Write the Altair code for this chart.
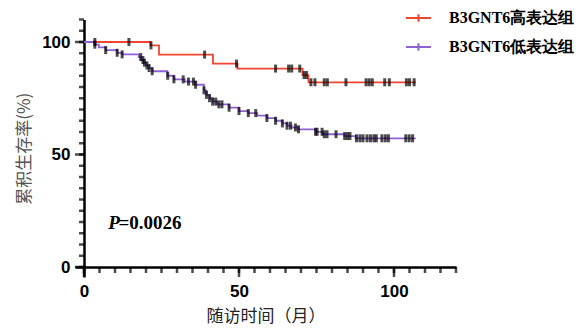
import altair as alt
import pandas as pd

high_label = "B3GNT6高表达组"
low_label = "B3GNT6低表达组"
colors = ["#F2452F", "#8E62D0"]

# Kaplan-Meier steps (month, survival % after drop)
high_times = [0, 21.5, 24.2, 41.6, 49.5, 70.5, 72.4]
high_surv = [100, 98.5, 94.4, 90.4, 88.2, 85.3, 82.1]
high_end = 107
high_censor = [3.5, 14.5, 21.6, 38.9, 49.2, 61.8, 66.0, 67.0, 69.6, 71.0, 71.8,
               73.2, 74.5, 77.5, 78.5, 84.5, 91.0, 92.0, 93.0, 97.0, 98.5,
               104.0, 105.0, 106.5]

low_times = [0, 3.5, 4.8, 7.0, 10.7, 12.3, 17.7, 18.5, 19.3, 20.0, 21.0, 22.0,
             26.9, 29.0, 32.5, 36.0, 38.7, 39.5, 40.5, 41.5, 43.0, 46.8, 50.0,
             53.0, 55.9, 59.0, 61.8, 64.0, 65.5, 67.0, 69.0, 74.7, 77.0, 84.0,
             87.6]
low_surv = [100, 98.8, 97.6, 96.4, 95.2, 94.5, 93.3, 92.0, 90.8, 89.6, 88.4,
            87.0, 85.0, 83.4, 82.4, 81.0, 78.5, 76.5, 75.0, 73.5, 72.3, 70.8,
            69.3, 68.4, 67.3, 66.2, 65.0, 63.8, 62.8, 62.0, 61.2, 60.1, 59.0,
            58.2, 57.2]
low_end = 107
low_censor = [3.5, 7.0, 10.7, 12.3, 18.3, 19.0, 19.5, 20.3, 21.0, 22.0, 27.0,
              29.0, 32.0, 33.7, 35.3, 36.0, 38.7, 39.5, 40.5, 41.5, 42.5, 43.5,
              44.5, 46.8, 50.0, 53.0, 55.4, 59.0, 61.8, 64.0, 65.5, 66.6, 68.2,
              69.2, 74.7, 75.2, 76.8, 77.5, 78.4, 81.3, 84.1, 85.0, 85.8, 87.9,
              89.0, 90.0, 91.3, 92.4, 93.5, 94.3, 96.1, 97.2, 98.2, 103.8,
              104.9, 106.0]

x_major = [0, 50, 100]
y_major = [0, 50, 100]
x_minor = list(range(0, 121, 5))
y_minor = list(range(0, 111, 5))

p_text_p = "P"
p_text_rest = "=0.0026"


def step_value(times, surv, t):
    v = surv[0]
    for tt, ss in zip(times, surv):
        if tt <= t:
            v = ss
    return v


line_rows = []
cens_rows = []
for label, times, surv, end, cens in [
    (high_label, high_times, high_surv, high_end, high_censor),
    (low_label, low_times, low_surv, low_end, low_censor),
]:
    for i, (t, s) in enumerate(zip(times, surv)):
        line_rows.append({"t": t, "s": s, "g": label, "o": i})
    line_rows.append({"t": end, "s": surv[-1], "g": label, "o": len(times)})
    for c in cens:
        cens_rows.append({"t": c, "s": step_value(times, surv, c), "g": label})

line_df = pd.DataFrame(line_rows)
cens_df = pd.DataFrame(cens_rows)
p_df = pd.DataFrame([{"t": 7.8, "s": 19.5, "txt": p_text_p}])
rest_df = pd.DataFrame([{"t": 11.1, "s": 19.5, "txt": p_text_rest}])
xmaj_df = pd.DataFrame({"t": x_major})
ymaj_df = pd.DataFrame({"s": y_major})
xmin_df = pd.DataFrame({"t": x_minor})
ymin_df = pd.DataFrame({"s": y_minor})

# pixel layout: 3.1 px per month, 2.25 px per percent; extra room left/below
# the axes (inside the plot rectangle) so that the outward tick marks show
X_PAD_PX = 9
Y_PAD_PX = 10
PX_PER_MONTH = 3.1
PX_PER_PCT = 2.25
PLOT_W = 120 * PX_PER_MONTH + X_PAD_PX
PLOT_H = 110 * PX_PER_PCT + Y_PAD_PX
X0 = X_PAD_PX                 # pixel x of month 0
Y0 = PLOT_H - Y_PAD_PX        # pixel y of 0 %

common_axis = dict(
    grid=False,
    domainColor="black",
    domainWidth=2.5,
    tickOpacity=0,
    labelFont="Liberation Sans",
    labelFontWeight="bold",
    labelFontSize=17,
    labelColor="black",
    labelFlush=False,
    labelOverlap=False,
    titleFont="Noto Sans CJK SC",
    titleFontWeight="normal",
)

x_axis = alt.Axis(
    title="随访时间（月）",
    values=x_minor,
    labelExpr="datum.value % 50 === 0 ? datum.label : ''",
    tickSize=6,
    labelPadding=10,
    titlePadding=9,
    titleFontSize=17,
    titleColor="#222222",
    offset=-Y_PAD_PX,
    **common_axis,
)
y_axis = alt.Axis(
    title="累积生存率(%)",
    values=y_minor,
    labelExpr="datum.value % 50 === 0 ? datum.label : ''",
    tickSize=5,
    labelPadding=9,
    titlePadding=8,
    titleFontSize=17,
    titleColor="#555555",
    offset=-X_PAD_PX,
    **common_axis,
)
x_scale = alt.Scale(domain=[-X_PAD_PX / PX_PER_MONTH, 120], nice=False, zero=False)
y_scale = alt.Scale(domain=[-Y_PAD_PX / PX_PER_PCT, 110], nice=False, zero=False)

x_enc = alt.X("t:Q", scale=x_scale, axis=x_axis)
y_enc = alt.Y("s:Q", scale=y_scale, axis=y_axis)

lines = alt.Chart(line_df).mark_line(interpolate="step-after", strokeWidth=1.8).encode(
    x=x_enc,
    y=y_enc,
    order="o:Q",
    color=alt.Color(
        "g:N",
        scale=alt.Scale(domain=[high_label, low_label], range=colors),
        legend=alt.Legend(
            title=None,
            orient="none",
            legendX=330,
            legendY=-15,
            symbolType="M-1,0H1M0,-0.3V0.3",
            symbolSize=625,
            symbolStrokeWidth=2,
            labelFont="Liberation Serif",
            labelFontSize=16,
            labelFontWeight="bold",
            labelColor="black",
            labelOffset=17,
            rowPadding=7,
            padding=0,
        ),
    ),
)

ticks = alt.Chart(cens_df).mark_tick(
    orient="vertical", color="black", size=8, thickness=3
).encode(x=x_enc, y=y_enc)

# axis tick marks (minor every 5, major every 50)
xmin = alt.Chart(xmin_df).mark_tick(
    orient="vertical", color="black", size=6, thickness=2.5
).encode(x=x_enc, y=alt.value(Y0 + 3))
xmaj = alt.Chart(xmaj_df).mark_tick(
    orient="vertical", color="black", size=10, thickness=2.5
).encode(x=x_enc, y=alt.value(Y0 + 5))
ymin = alt.Chart(ymin_df).mark_tick(
    orient="horizontal", color="black", size=5, thickness=2.5
).encode(y=y_enc, x=alt.value(X0 - 2.5))
ymaj = alt.Chart(ymaj_df).mark_tick(
    orient="horizontal", color="black", size=9, thickness=2.5
).encode(y=y_enc, x=alt.value(X0 - 4.5))

ptext = alt.Chart(p_df).mark_text(
    font="Liberation Serif", fontSize=19, fontWeight="bold", fontStyle="italic",
    align="left", baseline="middle", color="black"
).encode(x=x_enc, y=y_enc, text="txt:N")

rtext = alt.Chart(rest_df).mark_text(
    font="Liberation Serif", fontSize=19, fontWeight="bold",
    align="left", baseline="middle", color="black"
).encode(x=x_enc, y=y_enc, text="txt:N")

chart = alt.layer(xmin, xmaj, ymin, ymaj, lines, ticks, ptext, rtext).properties(
    width=PLOT_W,
    height=PLOT_H,
    autosize=alt.AutoSizeParams(type="none"),
    padding={"left": 76 - X_PAD_PX, "top": 11.5, "right": 123, "bottom": 58 - Y_PAD_PX},
).configure_view(stroke=None)

chart.save("out.html", embed_options={"renderer": "svg", "actions": False})
